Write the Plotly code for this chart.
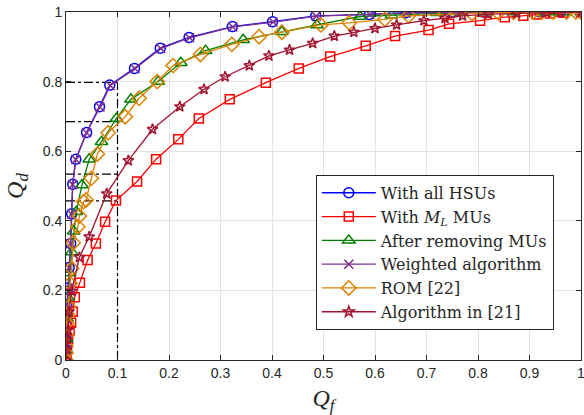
import plotly.graph_objects as go

# ---- data ----
hsu_x = [0, 0, 0, 0.001, 0.001, 0.002, 0.004, 0.006, 0.009, 0.011, 0.013, 0.019, 0.040, 0.065, 0.085,
         0.133, 0.183, 0.239, 0.323, 0.401, 0.485, 0.589, 0.660, 0.750, 0.810, 0.865, 0.920, 0.960, 1.0]
hsu_y = [0, 0.03, 0.06, 0.10, 0.13, 0.158, 0.207, 0.266, 0.335, 0.42, 0.505, 0.577, 0.654, 0.728, 0.790,
         0.838, 0.896, 0.927, 0.958, 0.972, 0.989, 0.993, 0.998, 0.999, 1.0, 1.0, 1.0, 1.0, 1.0]

ml_x = [0, 0.001, 0.002, 0.004, 0.007, 0.010, 0.013, 0.017, 0.027, 0.042, 0.058, 0.076, 0.097, 0.138,
        0.175, 0.218, 0.258, 0.318, 0.388, 0.452, 0.513, 0.582, 0.639, 0.704, 0.744, 0.804, 0.852,
        0.888, 0.914, 0.940, 0.966, 1.0]
ml_y = [0, 0.02, 0.04, 0.06, 0.085, 0.107, 0.139, 0.18, 0.222, 0.287, 0.335, 0.397, 0.458, 0.513,
        0.577, 0.634, 0.694, 0.749, 0.797, 0.838, 0.872, 0.903, 0.931, 0.948, 0.966, 0.975, 0.985,
        0.989, 0.993, 0.996, 0.998, 1.0]

rem_x = [0, 0, 0.001, 0.002, 0.004, 0.007, 0.011, 0.015, 0.020, 0.031, 0.045, 0.069, 0.098, 0.126,
         0.179, 0.223, 0.271, 0.344, 0.419, 0.487, 0.571, 0.632, 0.720, 0.765, 0.817, 0.869, 0.926,
         0.940, 0.970, 1.0]
rem_y = [0, 0.03, 0.06, 0.12, 0.18, 0.25, 0.31, 0.37, 0.426, 0.503, 0.577, 0.627, 0.694, 0.749,
         0.800, 0.854, 0.889, 0.920, 0.943, 0.963, 0.987, 0.991, 0.998, 0.999, 1.0, 1.0, 1.0,
         1.0, 1.0, 1.0]

wgt_x = [0, 0, 0, 0.001, 0.001, 0.002, 0.004, 0.006, 0.009, 0.011, 0.013, 0.019, 0.040, 0.066, 0.086,
         0.134, 0.184, 0.240, 0.324, 0.402, 0.486, 0.590, 0.661, 0.751, 0.811, 0.866, 0.921, 0.961, 1.0]
wgt_y = [0, 0.03, 0.06, 0.10, 0.13, 0.158, 0.207, 0.266, 0.334, 0.419, 0.504, 0.576, 0.653, 0.727, 0.789,
         0.837, 0.895, 0.926, 0.957, 0.971, 0.988, 0.993, 0.997, 0.999, 1.0, 1.0, 1.0, 1.0, 1.0]

rom_x = [0, 0, 0, 0.001, 0.001, 0.003, 0.005, 0.008, 0.011, 0.014, 0.023, 0.026, 0.034, 0.039, 0.049,
         0.061, 0.082, 0.115, 0.142, 0.177, 0.208, 0.261, 0.322, 0.375, 0.419, 0.495, 0.550, 0.619,
         0.665, 0.736, 0.788, 0.839, 0.869, 0.907, 0.924, 0.946, 0.972, 0.990, 1.0]
rom_y = [0, 0.02, 0.04, 0.07, 0.106, 0.13, 0.153, 0.22, 0.263, 0.337, 0.383, 0.414, 0.455, 0.46, 0.522,
         0.592, 0.653, 0.699, 0.752, 0.800, 0.846, 0.878, 0.907, 0.929, 0.942, 0.963, 0.969, 0.979,
         0.989, 0.994, 0.996, 0.998, 0.999, 1.0, 1.0, 1.0, 1.0, 1.0, 1.0]

alg_x = [0, 0.001, 0.002, 0.004, 0.006, 0.011, 0.026, 0.045, 0.079, 0.121, 0.168, 0.221, 0.268, 0.309,
         0.356, 0.394, 0.434, 0.479, 0.521, 0.559, 0.600, 0.642, 0.695, 0.736, 0.770, 0.820, 0.875,
         0.933, 0.960, 1.0]
alg_y = [0, 0.03, 0.06, 0.086, 0.139, 0.198, 0.295, 0.354, 0.478, 0.573, 0.663, 0.728, 0.778, 0.814,
         0.846, 0.874, 0.891, 0.910, 0.931, 0.942, 0.953, 0.963, 0.975, 0.982, 0.989, 0.994, 0.996,
         0.998, 0.999, 1.0]

# reference operating point lines (Pf = 0.1)
pf_ref = 0.1
pd_refs = [0.798, 0.685, 0.534, 0.457]

x_ticks = [0, 0.1, 0.2, 0.3, 0.4, 0.5, 0.6, 0.7, 0.8, 0.9, 1]
x_tick_text = ["0", "0.1", "0.2", "0.3", "0.4", "0.5", "0.6", "0.7", "0.8", "0.9", "1"]
y_ticks = [0, 0.2, 0.4, 0.6, 0.8, 1]
y_tick_text = ["0", "0.2", "0.4", "0.6", "0.8", "1"]

series = [
    ("With all HSUs", hsu_x, hsu_y, "#0000FF", "circle-open", 10),
    ("With <i>M</i><sub><i>L</i></sub> MUs", ml_x, ml_y, "#FF0000", "square-open", 9),
    ("After removing MUs", rem_x, rem_y, "#008000", "triangle-up-open", 11),
    ("Weighted algorithm", wgt_x, wgt_y, "#7E2F8E", "x-thin-open", 9),
    ("ROM [22]", rom_x, rom_y, "#DE8000", "diamond-open", 11),
    ("Algorithm in [21]", alg_x, alg_y, "#A2142F", "star-open", 8),
]

SERIF = "DejaVu Serif"
SANS = "Liberation Sans"

fig = go.Figure()

# dash-dot guide lines
fig.add_trace(go.Scatter(x=[pf_ref, pf_ref], y=[0, pd_refs[0]], mode="lines",
                         line=dict(color="black", width=1.2, dash="dashdot"),
                         showlegend=False, hoverinfo="skip"))
for v in pd_refs:
    fig.add_trace(go.Scatter(x=[0, pf_ref], y=[v, v], mode="lines",
                             line=dict(color="black", width=1.2, dash="dashdot"),
                             showlegend=False, hoverinfo="skip"))

for name, xs, ys, col, sym, sz in series:
    fig.add_trace(go.Scatter(
        x=xs, y=ys, mode="lines+markers", name=name,
        line=dict(color=col, width=1.3),
        marker=dict(symbol=sym, size=sz, color=col, line=dict(color=col, width=1.5)),
    ))

axis_common = dict(
    showgrid=True, gridcolor="#E3E3E3", gridwidth=1,
    zeroline=False, showline=True, linecolor="#262626", linewidth=1,
    mirror="ticks", ticks="inside", ticklen=5, tickcolor="#262626",
    tickfont=dict(family=SANS, size=14, color="#262626"),
    ticklabeloverflow="allow", automargin=False,
)

fig.update_xaxes(range=[0, 1], tickvals=x_ticks, ticktext=x_tick_text,
                 title=dict(text="<i>Q</i><sub><i>f</i></sub>",
                            font=dict(family="Liberation Serif", size=24, color="#262626"),
                            standoff=14),
                 **axis_common)
fig.update_yaxes(range=[0, 1], tickvals=y_ticks, ticktext=y_tick_text,
                 title=dict(text="<i>Q</i><sub><i>d</i></sub>",
                            font=dict(family="Liberation Serif", size=24, color="#262626"),
                            standoff=12),
                 **axis_common)

fig.update_layout(
    width=584, height=415,
    margin=dict(l=66, r=3, t=12, b=55),
    paper_bgcolor="white", plot_bgcolor="white",
    font=dict(family=SERIF, size=16, color="#262626"),
    legend=dict(
        x=0.485, y=0.532, xanchor="left", yanchor="top",
        bgcolor="white", bordercolor="#262626", borderwidth=1,
        font=dict(family=SERIF, size=16, color="#262626"),
        tracegroupgap=0, itemwidth=54,
    ),
)

fig.write_html("out.html")
